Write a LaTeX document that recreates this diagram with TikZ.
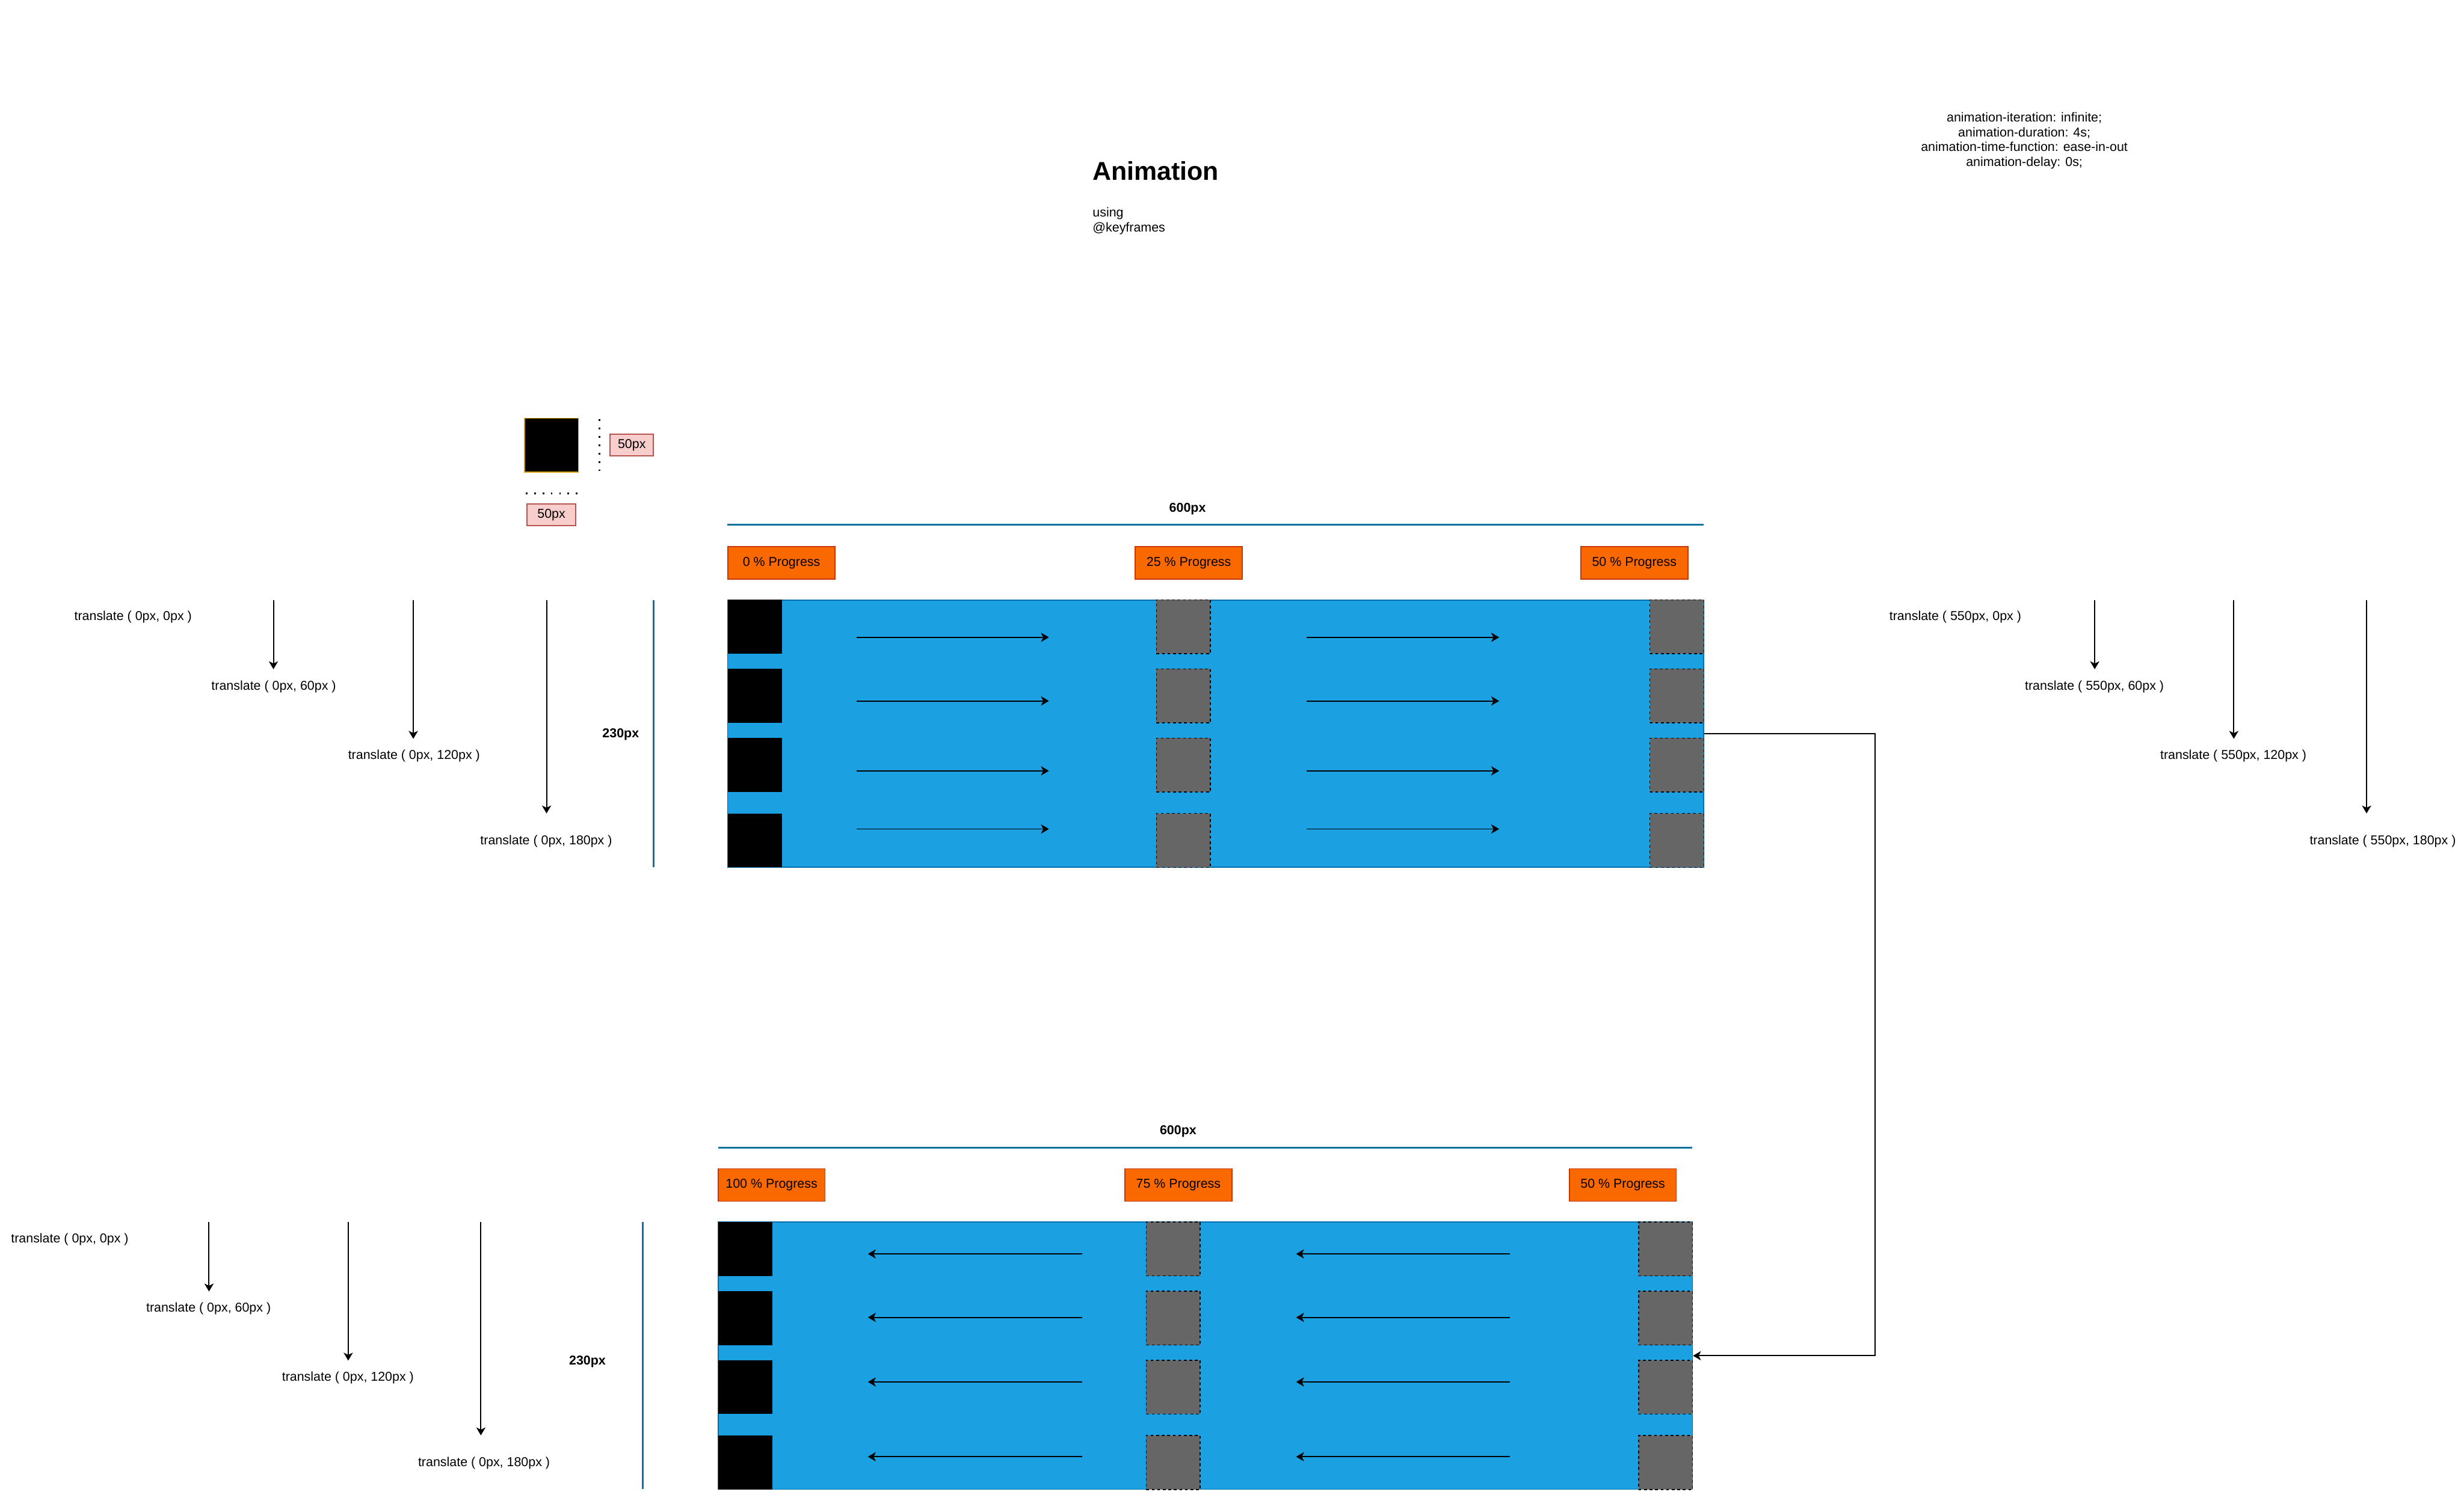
\documentclass[tikz,border=0pt]{standalone}
\usepackage{fontspec}
\setmainfont{Liberation Sans}
\usetikzlibrary{positioning, arrows.meta, calc}

\definecolor{stagefill}{HTML}{1BA1E2}
\definecolor{stageline}{HTML}{006EAF}
\definecolor{dimblue}{HTML}{10739E}
\definecolor{progfill}{HTML}{FA6800}
\definecolor{progline}{HTML}{C73500}
\definecolor{pinkfill}{HTML}{F8CECC}
\definecolor{pinkline}{HTML}{B85450}
\definecolor{goldline}{HTML}{D79B00}
\definecolor{ghost}{HTML}{666666}

\tikzset{
  every node/.style={font=\fontsize{7pt}{8.04pt}\selectfont, inner sep=0pt},
  stage/.style={draw=stageline, fill=stagefill, line width=0.6pt, minimum height=5.1cm},
  progress/.style={draw=progline, fill=progfill, line width=0.6pt, minimum width=2.04cm, minimum height=0.62cm},
  pxbox/.style={draw=pinkline, fill=pinkfill, line width=0.6pt, minimum height=0.41cm},
  boxsq/.style={fill=black, minimum size=1.03cm},
  ghostsq/.style={draw=black, fill=ghost, dash pattern=on 1.5pt off 1.5pt, line width=0.5pt, minimum size=1.03cm},
  move/.style={-{Stealth[length=4.3pt, width=5pt, inset=1.2pt]}, line width=0.65pt},
  dimline/.style={dimblue, line width=1.07pt},
  dotline/.style={line width=0.95pt, dash pattern=on 0.95pt off 3.6pt},
  dimtext/.style={font=\bfseries\fontsize{7pt}{8.04pt}\selectfont},
}

\begin{document}
\begin{tikzpicture}[x=0.3mm, y=-0.3mm]
\useasboundingbox (0,0) rectangle (1568,949.4);

\node[anchor=base west, font=\bfseries\fontsize{14pt}{16pt}\selectfont] (title) at (695.1,114.6) {Animation};
\node[anchor=north west, align=left] (using) at (695.1,131.8) {using\\@keyframes};
\node[align=center] (props) at (1288.2,89.6) {animation-iteration: infinite;\\animation-duration: 4s;\\animation-time-function: ease-in-out\\animation-delay: 0s;};

\node[boxsq, draw=goldline, line width=0.6pt] (unit) at (350.9,283.4) {};
\draw[dotline] (381.6,266.9) -- (381.6,299.8);
\draw[dotline] (334.5,314.1) -- (367.6,314.1);
\node[pxbox, minimum width=0.825cm] (unith) at (402.05,283.35) {50px};
\node[pxbox, minimum width=0.93cm] (unitw) at (350.9,327.7) {50px};

\draw[dimline] (463,334) -- (1084,334);
\node[dimtext] (wtop) at (755.7,323.8) {600px};
\node[progress] (p0) at (497.3,358.3) {0 \% Progress};
\node[progress] (p25) at (756.5,358.3) {25 \% Progress};
\node[progress] (p50a) at (1040,358.3) {50 \% Progress};

\node[stage, minimum width=18.63cm] (stage1) at (773.5,467) {};
\foreach \r [count=\i] in {399,443,487,535} {
  \node[boxsq] (blk\i) at (480.3,\r) {};
  \node[ghostsq] (qa\i) at (753.1,\r) {};
  \node[ghostsq] (qb\i) at (1067.1,\r) {};
}
\foreach \y [count=\i] in {405.7,446.2,490.7,527.7} {
  \coordinate (fa\i) at (545.2,\y); \coordinate (fb\i) at (667.5,\y);
  \coordinate (fc\i) at (831.6,\y); \coordinate (fd\i) at (954,\y);
  \draw[move] (fa\i) -- (fb\i);
  \draw[move] (fc\i) -- (fd\i);
}

\draw[dimline] (416,382) -- (416,552);
\node[dimtext] (htop) at (395,467.5) {230px};

\node (tl1) at (84.7,392.8) {translate ( 0px, 0px )};
\node (tl2) at (174.2,437) {translate ( 0px, 60px )};
\node (tl3) at (263.5,481.3) {translate ( 0px, 120px )};
\node (tl4) at (347.6,535.6) {translate ( 0px, 180px )};
\foreach \x/\e [count=\i] in {174/426, 263/470.3, 347.8/517.8} {
  \coordinate (ls\i) at (\x,382); \coordinate (le\i) at (\x,\e);
  \draw[move] (ls\i) -- (le\i);
}

\node (tr1) at (1244.3,392.8) {translate ( 550px, 0px )};
\node (tr2) at (1332.8,437) {translate ( 550px, 60px )};
\node (tr3) at (1421.2,481.3) {translate ( 550px, 120px )};
\node (tr4) at (1516.3,535.6) {translate ( 550px, 180px )};
\foreach \x/\e [count=\i] in {1333/426, 1421.5/470.3, 1506/517.8} {
  \coordinate (rs\i) at (\x,382); \coordinate (re\i) at (\x,\e);
  \draw[move] (rs\i) -- (re\i);
}

\draw[dimline] (457,730.5) -- (1077,730.5);
\node[dimtext] (wbot) at (749.7,720.3) {600px};
\node[progress] (p100) at (491,754.3) {100 \% Progress};
\node[progress] (p75) at (749.9,754.3) {75 \% Progress};
\node[progress] (p50b) at (1032.7,754.3) {50 \% Progress};

\node[stage, minimum width=18.6cm] (stage2) at (767,863) {};
\foreach \r [count=\i] in {795,839,883,931} {
  \node[boxsq] (bblk\i) at (474.4,\r) {};
  \node[ghostsq] (bqa\i) at (746.6,\r) {};
  \node[ghostsq] (bqb\i) at (1059.9,\r) {};
}
\foreach \y [count=\i] in {798.2,838.6,879.7,927.3} {
  \coordinate (ba\i) at (688.6,\y); \coordinate (bb\i) at (552.3,\y);
  \coordinate (bc\i) at (961,\y); \coordinate (bd\i) at (824.8,\y);
  \draw[move] (ba\i) -- (bb\i);
  \draw[move] (bc\i) -- (bd\i);
}

\draw[dimline] (409,778) -- (409,948);
\node[dimtext] (hbot) at (373.8,866.6) {230px};

\node (bl1) at (44.4,789) {translate ( 0px, 0px )};
\node (bl2) at (132.7,833) {translate ( 0px, 60px )};
\node (bl3) at (221.4,877) {translate ( 0px, 120px )};
\node (bl4) at (308,931.4) {translate ( 0px, 180px )};
\foreach \x/\e [count=\i] in {133/822.1, 221.6/866.1, 306/913.7} {
  \coordinate (bs\i) at (\x,778); \coordinate (be\i) at (\x,\e);
  \draw[move] (bs\i) -- (be\i);
}

\draw[move] (stage1.east) -- ++(108.8,0) |- (stage2.east);
\end{tikzpicture}
\end{document}
